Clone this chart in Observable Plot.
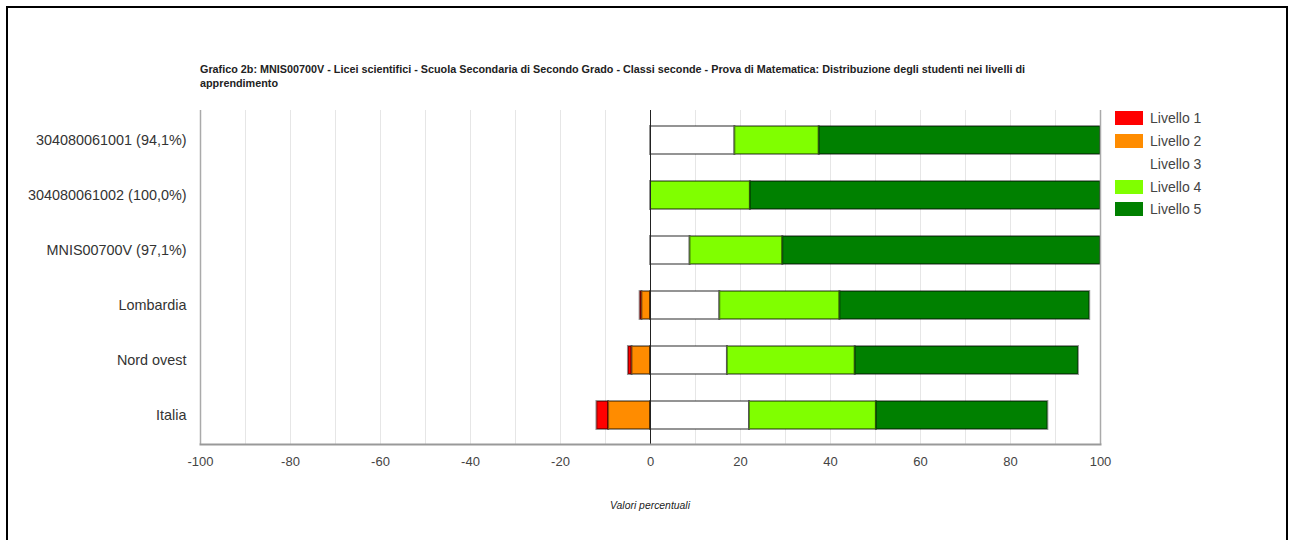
<!DOCTYPE html>
<html><head><meta charset="utf-8">
<script src="https://cdn.jsdelivr.net/npm/d3@7"></script>
<script src="https://cdn.jsdelivr.net/npm/@observablehq/plot@0.6"></script>
<style>
body{margin:0;background:#fff;font-family:"Liberation Sans",Arial,sans-serif;}
#wrap{position:relative;width:1294px;height:540px;overflow:hidden;background:#fff;}
#frame{position:absolute;left:6px;top:6px;width:1282px;height:600px;border:2px solid #000;box-sizing:border-box;}
#title{position:absolute;left:200px;top:62px;font-size:10.8px;font-weight:bold;color:#222;line-height:14px;white-space:nowrap;}
#chart{position:absolute;left:0;top:0;}
#legend{position:absolute;left:1115px;top:107px;}
.item{display:flex;align-items:center;height:22.75px;font-size:14px;color:#444;}
.sw{width:28px;height:14px;margin-right:7px;box-sizing:border-box;}
#xlabel{position:absolute;left:0;width:1300px;top:500px;text-align:center;font-size:10.4px;font-style:italic;color:#222;}
</style>
</head><body>
<div id="wrap">
  <div id="frame"></div>
  <div id="chart"></div>
  <div id="title">Grafico 2b: MNIS00700V - Licei scientifici - Scuola Secondaria di Secondo Grado - Classi seconde - Prova di Matematica: Distribuzione degli studenti nei livelli di<br>apprendimento</div>
  <div id="legend"></div>
  <div id="xlabel">Valori percentuali</div>
</div>
<script>
const categories = ["304080061001 (94,1%)","304080061002 (100,0%)","MNIS00700V (97,1%)","Lombardia","Nord ovest","Italia"];
const levels = ["Livello 1","Livello 2","Livello 3","Livello 4","Livello 5"];
const levelColors = ["#ff0000","#ff8c00","#ffffff","#80ff00","#008000"];
const livello1 = [0, 0, 0, 0.4, 0.8, 2.6];
const livello2 = [0, 0, 0, 1.9, 4.1, 9.3];
const livello3 = [18.75, 0, 8.8, 15.4, 17.1, 22.0];
const livello4 = [18.75, 22.2, 20.6, 26.7, 28.4, 28.2];
const livello5 = [62.5, 77.8, 70.6, 55.5, 49.6, 38.1];
const xTicks = [-100,-80,-60,-40,-20,0,20,40,60,80,100];
const gridTicks = [-90,-80,-70,-60,-50,-40,-30,-20,-10,10,20,30,40,50,60,70,80,90];
const stackOrder = ["Livello 2","Livello 1","Livello 3","Livello 4","Livello 5"];

const series = [livello1, livello2, livello3, livello4, livello5];
const table = [];
categories.forEach((c, i) => {
  series.forEach((s, j) => {
    const v = j < 2 ? -s[i] : s[i];
    table.push({cat: c, level: levels[j], value: v});
  });
});

const chart = Plot.plot({
  width: 1294,
  height: 540,
  marginLeft: 200,
  marginRight: 194,
  marginTop: 110,
  marginBottom: 96,
  style: {fontFamily: "'Liberation Sans', Arial, sans-serif", background: "transparent"},
  x: {domain: [-100, 100]},
  y: {domain: categories, paddingInner: 0.5, paddingOuter: 0.25},
  color: {domain: levels, range: levelColors},
  marks: [
    Plot.ruleX(gridTicks, {stroke: "#e6e6e6", strokeWidth: 1}),
    Plot.barX(table, Plot.stackX({
      x: "value", y: "cat", fill: "level", order: stackOrder,
      stroke: "#000", strokeOpacity: 0.42, strokeWidth: 2
    })),
    Plot.ruleX([-100, 100], {stroke: "#aaa", strokeWidth: 1.5}),
    Plot.ruleX([0], {stroke: "#222", strokeWidth: 1}),
    Plot.frame({anchor: "bottom", stroke: "#999", strokeWidth: 2}),
    Plot.axisX({ticks: xTicks, tickSize: 0, tickPadding: 12, tickFormat: d => String(d), fontSize: 13, fill: "#444", label: null}),
    Plot.axisY({tickSize: 0, tickPadding: 14, fontSize: 14.4, fill: "#333", label: null})
  ]
});
document.getElementById("chart").appendChild(chart);

const legend = document.getElementById("legend");
levels.forEach((l, i) => {
  const row = document.createElement("div");
  row.className = "item";
  const sw = document.createElement("div");
  sw.className = "sw";
  sw.style.background = levelColors[i];
  row.appendChild(sw);
  const t = document.createElement("span");
  t.textContent = l;
  row.appendChild(t);
  legend.appendChild(row);
});
</script>
</body></html>
